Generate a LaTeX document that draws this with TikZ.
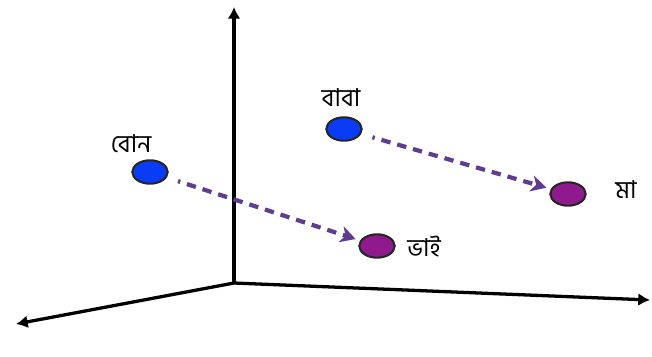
\documentclass[tikz,border=0pt]{standalone}
\usepackage{fontspec}
\newfontfamily\bnfont[Script=Bengali]{Hind Siliguri}
\usetikzlibrary{arrows.meta, shapes.geometric}
\definecolor{dotblue}{HTML}{0A3CF5}
\definecolor{dotpurple}{HTML}{8E1A8E}
\definecolor{linkpurple}{HTML}{5E3C8E}
\begin{document}
\begin{tikzpicture}[x=0.03cm, y=-0.03cm,
    dot/.style={ellipse, draw=black!85, line width=1.8pt, minimum width=1.06cm, minimum height=0.7cm, inner sep=0pt},
    word/.style={font=\bnfont\fontsize{21}{24}\selectfont, inner sep=0pt},
    axis/.style={line width=2.8pt, -{Latex[length=10pt, width=11pt]}},
    link/.style={linkpurple, line width=3.6pt, dash pattern=on 8pt off 6pt, dash phase=6pt,
        -{Stealth[length=13pt, width=14pt, inset=4pt]}, shorten <=10pt, shorten >=4pt}]
    \useasboundingbox (0,0) rectangle (652,356);
    \coordinate (o) at (234,283);
    \coordinate (z) at (234,7);
    \coordinate (x) at (650,300);
    \coordinate (y) at (16,324);
    \draw[axis] (o) -- (z);
    \draw[axis] (o) -- (x);
    \draw[axis] (o) -- (y);
    \node[dot, fill=dotblue] (bon) at (150,172) {};
    \node[dot, fill=dotblue] (baba) at (344,129) {};
    \node[dot, fill=dotpurple] (bhai) at (377,246) {};
    \node[dot, fill=dotpurple] (ma) at (568,194) {};
    \node[word] (bonlabel) at (131,144) {বোন};
    \node[word] (babalabel) at (341,98) {বাবা};
    \node[word] (bhailabel) at (424,246) {ভাই};
    \node[word] (malabel) at (626,190) {মা};
    \draw[link] (bon) -- (bhai);
    \draw[link] (baba) -- (ma);
\end{tikzpicture}
\end{document}
